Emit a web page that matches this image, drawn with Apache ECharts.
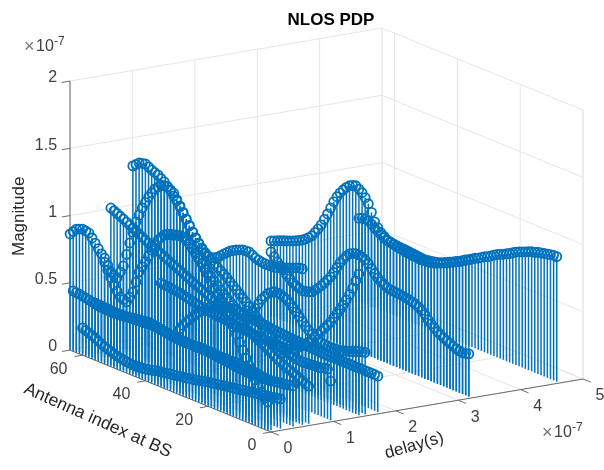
<!DOCTYPE html>
<html><head><meta charset="utf-8">
<style>html,body{margin:0;padding:0;background:#fff}#c{width:604px;height:470px}</style>
<script src="https://cdn.jsdelivr.net/npm/echarts@6/dist/echarts.min.js"></script>
</head><body><div id="c"></div>
<script>
// delay of each path (units of 1e-7 s); values per antenna index 1..64 (units of 1e-7)
const delays = {A:0,B:0.0503,C:0.2013,D:0.4026,T4:0.6543,V1:0.5535,T5:1.0064,P:1.4593,E:1.5599,F:1.7613,Q:3.2205,H:3.2205,T9:4.6296};
const pathA=[.213,.233,.265,.297,.339,.381,.428,.474,.524,.574,.62,.666,.709,.751,.79,.829,.865,.9,.938,.977,1.009,1.04,1.068,1.095,1.123,1.15,1.167,1.184,1.182,1.179,1.173,1.167,1.154,1.141,1.113,1.085,1.038,.99,.938,.885,.838,.79,.706,.622,.575,.529,.538,.547,.582,.617,.662,.708,.759,.81,.84,.871,.9,.928,.933,.938,.928,.919,.891,.863];
const pathB=[.366,.368,.371,.374,.378,.381,.385,.388,.39,.392,.394,.395,.395,.394,.394,.394,.395,.397,.399,.40,.40,.40,.40,.40,.398,.396,.393,.391,.392,.393,.395,.398,.403,.408,.413,.419,.423,.427,.43,.433,.429,.425,.422,.418,.414,.41,.406,.402,.399,.396,.394,.393,.395,.397,.399,.40,.405,.411,.417,.422,.426,.43,.433,.436];
const pathC=[.22,.216,.212,.207,.203,.199,.195,.191,.187,.183,.179,.175,.171,.167,.163,.159,.155,.151,.147,.143,.139,.135,.131,.128,.122,.116,.11,.105,.1,.096,.092,.088,.084,.08,.076,.073,.068,.064,.06,.057,.05,.044,.038,.034,.03,.028,.027,.026,.029,.032,.036,.04,.046,.052,.06,.068,.077,.086,.099,.112,.122,.131,.14,.149];
const pathD=[.301,.297,.292,.288,.285,.281,.278,.274,.271,.268,.267,.266,.265,.264,.263,.263,.266,.269,.272,.275,.278,.28,.283,.286,.289,.292,.295,.297,.298,.298,.299,.299,.30,.30,.303,.305,.306,.307,.308,.309,.312,.315,.318,.32,.323,.326,.324,.322,.32,.318,.316,.314,.313,.312,.311,.31,.309,.309,.311,.312,.314,.316,.317,.319];
const pathT4=[.28,.29,.3,.311,.322,.334,.34,.348,.362,.375,.386,.399,.412,.43,.445,.457,.47,.483,.495,.508,.52,.53,.54,.552,.563,.574,.585,.596,.607,.617,.628,.639,.65,.662,.672,.683,.693,.705,.716,.727,.738,.75,.76,.771,.782,.793,.805,.816,.827,.838,.848,.858,.87,.884,.897,.909,.922,.935,.948,.961,.972,.983,.994,1.005];
const pathV1=[1.159,1.157,1.148,1.138,1.128,1.119,1.11,1.1,1.093,1.087,1.085,1.084,1.085,1.087,1.092,1.098,1.112,1.124,1.122,1.12,1.11,1.1,1.087,1.074,1.053,1.033,1.011,.99,.977,.965,.97,.976,1.0,1.031,1.065,1.1,1.14,1.179,1.218,1.257,1.295,1.333,1.347,1.36,1.358,1.355,1.331,1.307,1.268,1.228,1.178,1.127,1.066,1.004,.917,.829,.734,.639,.584,.53,.543,.556,.598,.641];
const pathT5=[.29,.37,.369,.359,.357,.355,.353,.351,.349,.347,.348,.35,.355,.361,.37,.379,.388,.397,.413,.43,.454,.478,.502,.526,.55,.574,.597,.621,.641,.662,.682,.702,.722,.743,.76,.776,.792,.809,.825,.842,.865,.889,.917,.945,.98,1.015,1.054,1.093,1.128,1.163,1.19,1.218,1.242,1.266,1.282,1.299,1.308,1.317,1.33,1.343,1.337,1.331,1.31,1.29];
const pathP=[1.05,.99,.926,.87,.82,.771,.73,.69,.648,.607,.575,.543,.512,.48,.45,.42,.393,.367,.345,.325,.305,.291,.283,.279,.277,.276,.275,.275,.275,.275,.277,.279,.281,.282,.283,.285,.287,.288,.292,.295,.299,.302,.304,.306,.308,.309,.312,.315,.319,.322,.327,.333,.339,.344,.35,.355,.361,.366,.369,.372,.376,.379,.381,.383];
const pathE=[.46,.454,.448,.438,.428,.419,.412,.405,.398,.396,.394,.392,.395,.398,.401,.411,.421,.432,.452,.472,.5,.527,.551,.575,.596,.616,.625,.634,.636,.637,.62,.603,.572,.54,.497,.454,.414,.375,.368,.363,.378,.393,.409,.427,.445,.463,.486,.508,.531,.554,.576,.599,.629,.659,.689,.714,.74,.765,.766,.768,.76,.75,.744,.738];
const pathF=[.267,.27,.27,.27,.27,.271,.271,.27,.27,.27,.27,.27,.27,.27,.269,.269,.269,.269,.27,.272,.274,.275,.277,.279,.28,.282,.284,.285,.287,.288,.29,.292,.294,.295,.298,.301,.305,.309,.308,.308,.308,.308,.313,.318,.323,.329,.327,.325,.322,.32,.311,.302,.293,.283,.26,.24,.22,.2,.172,.145,.118,.09,.055,.02];
const pathQ=[.318,.312,.307,.311,.317,.327,.338,.349,.361,.374,.387,.407,.427,.448,.478,.498,.515,.525,.533,.539,.543,.547,.55,.553,.556,.558,.561,.575,.59,.607,.63,.656,.683,.703,.715,.721,.72,.712,.70,.675,.64,.604,.56,.515,.472,.44,.408,.377,.35,.325,.303,.295,.288,.283,.29,.3,.312,.333,.356,.381,.4,.422,.45,.476];
const pathH=[1.017,1.004,.99,.977,.964,.953,.942,.931,.92,.909,.903,.897,.892,.888,.884,.886,.888,.891,.893,.896,.898,.9,.901,.903,.907,.912,.918,.934,.952,.98,1.014,1.075,1.129,1.165,1.192,1.21,1.225,1.218,1.206,1.185,1.157,1.125,1.086,1.04,.985,.93,.88,.83,.79,.755,.72,.697,.677,.66,.648,.636,.625,.615,.606,.597,.588,.578,.568,.558];
const pathT9=[.93,.93,.925,.92,.915,.91,.905,.895,.89,.88,.87,.86,.85,.84,.825,.81,.80,.785,.775,.765,.75,.735,.72,.71,.695,.68,.67,.655,.64,.63,.615,.60,.59,.575,.565,.55,.54,.53,.52,.51,.505,.50,.50,.495,.495,.50,.50,.505,.505,.51,.515,.52,.525,.53,.535,.545,.56,.575,.59,.61,.625,.63,.625,.615];
const paths = [[delays.T9,pathT9],[delays.H,pathH],[delays.Q,pathQ],[delays.F,pathF],[delays.E,pathE],[delays.P,pathP],[delays.T5,pathT5],[delays.V1,pathV1],[delays.T4,pathT4],[delays.D,pathD],[delays.C,pathC],[delays.B,pathB],[delays.A,pathA]];

const zTicks=[0,0.5,1,1.5,2], zLabels=['0','0.5','1','1.5','2'];
const antennaTicks=[0,20,40,60], delayTicks=[0,1,2,3,4,5];
const antennaMax=64, delayMax=5, zMax=2;

// orthographic view of the MATLAB 3-D box, in the hidden axes' units
const proj=(d,a,z)=>[271+62.4*d-3.14*a, 432-10.6*d-1.28*a-134.5*z];

const BLUE='#0072BD', GRID='#e6e6e6', AXIS='#6a6a6a', TXT='#404040', FONT='"Liberation Sans",Arial,sans-serif';

// segments: [d1,a1,z1,d2,a2,z2]
const gridSegs=[], axisSegs=[];
zTicks.forEach(z=>{ if(z>0){gridSegs.push([0,antennaMax,z,delayMax,antennaMax,z]);gridSegs.push([delayMax,antennaMax,z,delayMax,0,z]);} });
delayTicks.forEach(d=>{ gridSegs.push([d,antennaMax,0,d,antennaMax,zMax]); gridSegs.push([d,0,0,d,antennaMax,0]); });
antennaTicks.forEach(a=>{ gridSegs.push([delayMax,a,0,delayMax,a,zMax]); gridSegs.push([0,a,0,delayMax,a,0]); });
gridSegs.push([delayMax,antennaMax,0,delayMax,antennaMax,zMax],[delayMax,0,0,delayMax,0,zMax],[0,antennaMax,0,delayMax,antennaMax,0],[delayMax,0,0,delayMax,antennaMax,0]);
axisSegs.push([0,antennaMax,0,0,antennaMax,zMax],[0,0,0,0,antennaMax,0],[0,0,0,delayMax,0,0]);
zTicks.forEach(z=>axisSegs.push([0,antennaMax,z,-0.13,antennaMax,z]));
antennaTicks.forEach(a=>axisSegs.push([0,a,0,-0.13,a,0]));
delayTicks.forEach(d=>axisSegs.push([d,0,0,d,-2.5,0]));

function segSeries(data,color,width,z){
  return {type:'custom',coordinateSystem:'cartesian2d',silent:true,animation:false,z,clip:false,
    encode:{x:0,y:1},data:data.map(s=>{const p=proj(s[0],s[1],s[2]),q=proj(s[3],s[4],s[5]);return [p[0],p[1],q[0],q[1]];}),
    renderItem(params,api){
      const p=api.coord([api.value(0),api.value(1)]),q=api.coord([api.value(2),api.value(3)]);
      return {type:'line',shape:{x1:p[0],y1:p[1],x2:q[0],y2:q[1]},style:{stroke:color,lineWidth:width,fill:null}};
    }};
}
function textSeries(items){
  return {type:'custom',coordinateSystem:'cartesian2d',silent:true,animation:false,z:20,clip:false,
    encode:{x:0,y:1},data:items.map(t=>({value:[t.p[0],t.p[1]]})),
    renderItem(params,api){
      const t=items[params.dataIndex],p=api.coord([api.value(0),api.value(1)]);
      return {type:'text',x:p[0]+(t.dx||0),y:p[1]+(t.dy||0),rotation:(t.rot||0)*Math.PI/180,
        style:{text:t.text,fill:t.color||TXT,font:(t.size||16)+'px '+FONT,align:t.align||'center',verticalAlign:'middle'}};
    }};
}
const labels=[];
zTicks.forEach((z,i)=>labels.push({text:zLabels[i],p:proj(0,antennaMax,z),dx:-13,dy:-3,align:'right'}));
antennaTicks.forEach(a=>labels.push({text:String(a),p:proj(0,a,0),dx:a===0?-19:-24,dy:14}));
delayTicks.forEach(d=>labels.push({text:String(d),p:proj(d,0,0),dx:17,dy:17}));
labels.push({text:'Magnitude',p:proj(0,antennaMax,0.95),dx:-51,dy:-6,rot:90,size:17,color:'#262626'});
labels.push({text:'Antenna index at BS',p:proj(0,30,0),dx:-79,dy:27,rot:-24,size:17.5,color:'#262626'});
labels.push({text:'delay(s)',p:proj(2.2,0,0),dx:6,dy:37,rot:16,size:17,color:'#262626'});

const pathData=(d,vals)=>vals.map((v,k)=>{const t=proj(d,k+1,v),b=proj(d,k+1,0);return [t[0],t[1],b[0],b[1]];});
const stemSeries=paths.map(([d,vals])=>({
  type:'custom',coordinateSystem:'cartesian2d',silent:true,animation:false,z:5,clip:false,progressive:0,
  encode:{x:0,y:1},data:pathData(d,vals),
  renderItem(params,api){
    const t=api.coord([api.value(0),api.value(1)]),b=api.coord([api.value(2),api.value(3)]);
    return {type:'line',shape:{x1:t[0],y1:t[1],x2:b[0],y2:b[1]},style:{stroke:BLUE,lineWidth:1.5,fill:null}};
  }
}));
const ringSeries=paths.map(([d,vals])=>({
  type:'custom',coordinateSystem:'cartesian2d',silent:true,animation:false,z:6,clip:false,progressive:0,
  encode:{x:0,y:1},data:pathData(d,vals),
  renderItem(params,api){
    const t=api.coord([api.value(0),api.value(1)]);
    return {type:'circle',shape:{cx:t[0],cy:t[1],r:4.5},style:{stroke:BLUE,lineWidth:1.8,fill:null}};
  }
}));

const chart=echarts.init(document.getElementById('c'),null,{renderer:'canvas'});
chart.setOption({
  animation:false,backgroundColor:'#fff',
  title:{text:'NLOS PDP',left:326,top:7,textAlign:'center',textStyle:{fontFamily:FONT,fontWeight:'bold',fontSize:17,color:'#000'}},
  grid:{left:0,right:0,top:0,bottom:0},
  xAxis:{type:'value',min:0,max:604,show:false},
  yAxis:{type:'value',min:0,max:470,inverse:true,show:false},
  series:[segSeries(gridSegs,GRID,1,1),segSeries(axisSegs,AXIS,1,2),...stemSeries,...ringSeries,textSeries(labels)],
  graphic:[
    {type:'text',left:24,top:38,style:{text:'×',fill:'#707070',font:'18px '+FONT}},
    {type:'text',left:36,top:39,style:{text:'10',fill:TXT,font:'16px '+FONT}},
    {type:'text',left:54,top:36,style:{text:'-7',fill:TXT,font:'12px '+FONT}},
    {type:'text',left:542,top:424,style:{text:'×',fill:'#707070',font:'18px '+FONT}},
    {type:'text',left:554,top:425,style:{text:'10',fill:TXT,font:'16px '+FONT}},
    {type:'text',left:572,top:422,style:{text:'-7',fill:TXT,font:'12px '+FONT}}
  ]
});
</script></body></html>
